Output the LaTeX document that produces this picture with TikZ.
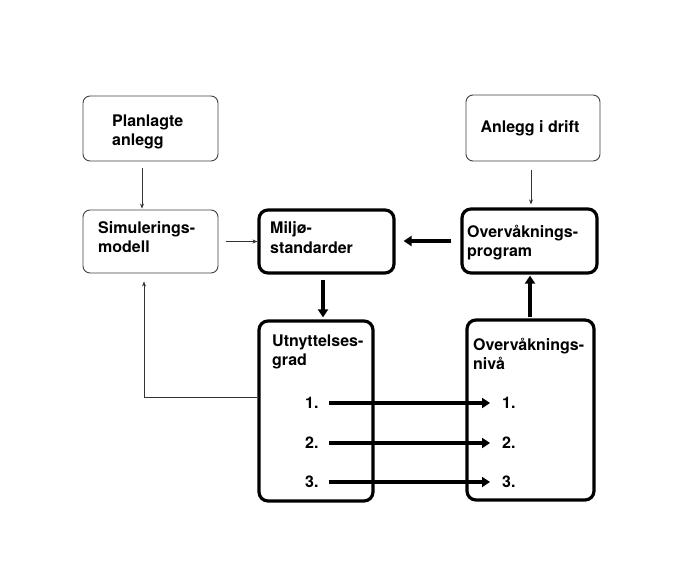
\documentclass[tikz,border=0pt]{standalone}
\usepackage{fontspec}
\setmainfont{TeX Gyre Heros}
\usetikzlibrary{arrows.meta}
\begin{document}
\begin{tikzpicture}[x=1pt,y=-1pt,
  thinbox/.style={draw=black!75,line width=0.9pt,rounded corners=7pt,rectangle,inner sep=0pt},
  thickbox/.style={draw=black,line width=3.2pt,rounded corners=9pt,rectangle,inner sep=0pt},
  lbl/.style={anchor=west,inner sep=0pt,font=\fontsize{16}{19.5}\selectfont\bfseries,align=left},
  thinarrow/.style={draw=black!80,line width=0.9pt,-{Stealth[length=5pt,width=4pt]}},
  thickarrow/.style={draw=black,line width=3.2pt,-{Triangle[length=8pt,width=10pt]}}]
\useasboundingbox (0,0) rectangle (690,565);
% boxes
\node[thinbox,minimum width=135pt,minimum height=65pt] (P) at (150.5,128.5) {};
\node[thinbox,minimum width=135pt,minimum height=63pt] (S) at (150.5,241.5) {};
\node[thickbox,minimum width=135pt,minimum height=63pt] (M) at (326.5,241.5) {};
\node[thickbox,minimum width=135pt,minimum height=64pt] (O) at (529.5,241) {};
\node[thinbox,minimum width=134pt,minimum height=66pt] (A) at (533,128) {};
\node[thickbox,minimum width=114pt,minimum height=180pt] (U) at (316,411) {};
\node[thickbox,minimum width=127pt,minimum height=180pt] (N) at (530.5,410) {};
% texts
\node[lbl] (tP) at (112,132) {Planlagte\\anlegg};
\node[lbl] (tS) at (98,237) {Simulerings-\\modell};
\node[lbl] (tM) at (270,237.5) {Miljø-\\standarder};
\node[lbl] (tO) at (467,242.5) {Overvåknings-\\program};
\node[lbl,anchor=center] (tA) at (530,128) {Anlegg i drift};
\node[lbl] (tU) at (272,352) {Utnyttelses-\\grad};
\node[lbl] (tN) at (473,354) {Overvåknings-\\nivå};
\node[lbl] (u1) at (305,403) {1.};
\node[lbl] (u2) at (305,443) {2.};
\node[lbl] (u3) at (305,482) {3.};
\node[lbl] (n1) at (502,403) {1.};
\node[lbl] (n2) at (502,443) {2.};
\node[lbl] (n3) at (502,482) {3.};
% connectors
\coordinate (xPS) at (142,0);
\coordinate (xAO) at (531,0);
\coordinate (xMU) at (323,0);
\coordinate (xNO) at (530,0);
\coordinate (yOM) at (0,241);
\coordinate (j) at (144,397);
\draw[thinarrow,shorten <=7pt,shorten >=1pt] (P.south -| xPS) -- (S.north -| xPS);
\draw[thinarrow,shorten <=8pt] (S.east) -- (M.west);
\draw[thickarrow,shorten <=9pt,shorten >=8pt] (O.west |- yOM) -- (M.east |- yOM);
\draw[thinarrow,shorten <=9pt,shorten >=3pt] (A.south -| xAO) -- (O.north -| xAO);
\draw[thickarrow,shorten <=5pt,shorten >=2pt] (M.south -| xMU) -- (U.north -| xMU);
\draw[thickarrow,shorten <=1pt,shorten >=1pt] (N.north -| xNO) -- (O.south -| xNO);
\draw[thinarrow,shorten >=8pt] (U.west |- j) -- (j) -- (S.south -| j);
\foreach \i in {1,2,3}{
  \draw[thickarrow,shorten <=10pt,shorten >=12pt] (u\i.east) -- (n\i.west);
}
\end{tikzpicture}
\end{document}
